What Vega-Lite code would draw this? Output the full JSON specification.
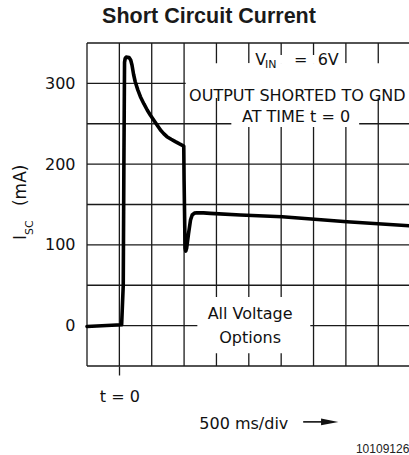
{
  "$schema": "https://vega.github.io/schema/vega-lite/v6.json",
  "autosize": {"type": "none"},
  "padding": {"left": 87, "top": 43, "right": 0, "bottom": 89},
  "width": 322,
  "height": 323,
  "background": "white",
  "config": {"view": {"stroke": null}},
  "datasets": {
    "vgrid": [{"x": -1}, {"x": 0}, {"x": 1}, {"x": 2}, {"x": 3}, {"x": 4}, {"x": 5}, {"x": 6}, {"x": 7}, {"x": 8}],
    "hgrid": [{"y": -50}, {"y": 0}, {"y": 50}, {"y": 100}, {"y": 150}, {"y": 200}, {"y": 250}, {"y": 300}, {"y": 350}],
    "masks": [
      {"x": 4.05, "x2": 6.95, "y": 335, "y2": 325},
      {"x": 3.95, "x2": 7.05, "y": 325, "y2": 245.9},
      {"x": 2.05, "x2": 8.96, "y": 325, "y2": 281.9},
      {"x": 3.09, "x2": 7.91, "y": 281.9, "y2": 254.6},
      {"x": 3.46, "x2": 7.41, "y": 254.6, "y2": 245.9},
      {"x": 2.41, "x2": 5.9, "y": 35.3, "y2": -34.1}
    ],
    "curve": [
      {"t": -1, "isc": -1}, {"t": 0.07, "isc": 1}, {"t": 0.12, "isc": 50}, {"t": 0.14, "isc": 200},
      {"t": 0.16, "isc": 326}, {"t": 0.18, "isc": 331}, {"t": 0.21, "isc": 332.5}, {"t": 0.3, "isc": 332},
      {"t": 0.35, "isc": 329}, {"t": 0.39, "isc": 322.8}, {"t": 0.44, "isc": 311}, {"t": 0.49, "isc": 302},
      {"t": 0.57, "isc": 292}, {"t": 0.65, "isc": 283.5}, {"t": 0.76, "isc": 274.5}, {"t": 0.86, "isc": 267},
      {"t": 0.96, "isc": 260.5}, {"t": 1.06, "isc": 254.6}, {"t": 1.17, "isc": 248}, {"t": 1.27, "isc": 242.2},
      {"t": 1.37, "isc": 237.8}, {"t": 1.47, "isc": 234}, {"t": 1.6, "isc": 230.8}, {"t": 1.73, "isc": 227.8},
      {"t": 1.86, "isc": 225}, {"t": 1.99, "isc": 222.4}, {"t": 2.0, "isc": 180}, {"t": 2.03, "isc": 96},
      {"t": 2.05, "isc": 92.3}, {"t": 2.08, "isc": 96}, {"t": 2.14, "isc": 114.6}, {"t": 2.2, "isc": 131},
      {"t": 2.25, "isc": 137}, {"t": 2.32, "isc": 139.3}, {"t": 2.4, "isc": 139.8}, {"t": 2.6, "isc": 139.6},
      {"t": 2.81, "isc": 139}, {"t": 3.74, "isc": 137}, {"t": 5.03, "isc": 134.8}, {"t": 7.03, "isc": 128.6},
      {"t": 8.96, "isc": 123.7}
    ],
    "ctext": [
      {"x": 5.5, "y": 278.6, "label": "OUTPUT SHORTED TO GND"},
      {"x": 5.46, "y": 251.8, "label": "AT TIME t = 0"},
      {"x": 4.04, "y": 7.7, "label": "All Voltage"},
      {"x": 4.04, "y": -21.3, "label": "Options"}
    ],
    "ltext": [
      {"x": 4.2, "y": 322.9, "label": "V"},
      {"x": 5.4, "y": 322.9, "label": "=\u00a0\u00a06V"},
      {"x": 2.47, "y": -127.4, "label": "500 ms/div"}
    ],
    "subtext": [
      {"x": 4.5, "y": 318.5, "label": "IN"}
    ],
    "ytitle": [
      {"x": -2.9, "y": 106, "label": "I"},
      {"x": -2.9, "y": 148.1, "label": "(mA)"}
    ],
    "ytitlesub": [
      {"x": -2.66, "y": 112.1, "label": "SC"}
    ],
    "heading": [
      {"x": 2.77, "y": 375.2, "label": "Short Circuit Current"}
    ],
    "foot": [
      {"x": 8.96, "y": -158, "label": "10109126"}
    ],
    "arrowline": [
      {"x": 5.68, "x2": 6.3, "y": -119.2}
    ],
    "arrowhead": [
      {"x": 6.5, "y": -119.2}
    ]
  },
  "layer": [
    {
      "data": {"name": "vgrid"},
      "mark": {"type": "rule", "color": "#1a1a1a", "strokeWidth": 1.3},
      "encoding": {
        "x": {"field": "x", "type": "quantitative", "scale": {"domain": [-1, 8.95], "nice": false, "zero": false}}
      }
    },
    {
      "data": {"name": "hgrid"},
      "mark": {"type": "rule", "color": "#1a1a1a", "strokeWidth": 1.3},
      "encoding": {
        "y": {"field": "y", "type": "quantitative", "scale": {"domain": [-50, 350], "nice": false, "zero": false}}
      }
    },
    {
      "data": {"name": "masks"},
      "mark": {"type": "rect", "color": "white", "opacity": 1},
      "encoding": {
        "x": {"field": "x", "type": "quantitative", "scale": {"domain": [-1, 8.95], "nice": false, "zero": false}},
        "x2": {"field": "x2"},
        "y": {"field": "y", "type": "quantitative", "scale": {"domain": [-50, 350], "nice": false, "zero": false}},
        "y2": {"field": "y2"}
      }
    },
    {
      "data": {"name": "curve"},
      "mark": {"type": "line", "color": "black", "strokeWidth": 3.6, "strokeJoin": "round", "strokeCap": "round"},
      "encoding": {
        "x": {"field": "t", "type": "quantitative", "scale": {"domain": [-1, 8.95], "nice": false, "zero": false},
          "axis": {"values": [0], "grid": false, "domain": false, "ticks": true, "tickSize": 9, "tickColor": "#1a1a1a", "tickWidth": 1.3,
            "labelExpr": "'t = 0'", "labelFont": "DejaVu Sans", "labelFontSize": 16, "labelColor": "#111", "labelPadding": 13, "title": null}},
        "y": {"field": "isc", "type": "quantitative", "scale": {"domain": [-50, 350], "nice": false, "zero": false},
          "axis": {"values": [0, 100, 200, 300], "grid": false, "domain": false, "ticks": false, "tickSize": 0,
            "labelFont": "DejaVu Sans", "labelFontSize": 16, "labelColor": "#111", "labelPadding": 12, "title": null}}
      }
    },
    {
      "data": {"name": "ctext"},
      "mark": {"type": "text", "font": "DejaVu Sans", "fontSize": 16, "align": "center", "baseline": "alphabetic", "color": "#111"},
      "encoding": {
        "x": {"field": "x", "type": "quantitative", "scale": {"domain": [-1, 8.95], "nice": false, "zero": false}},
        "y": {"field": "y", "type": "quantitative", "scale": {"domain": [-50, 350], "nice": false, "zero": false}},
        "text": {"field": "label"}
      }
    },
    {
      "data": {"name": "ltext"},
      "mark": {"type": "text", "font": "DejaVu Sans", "fontSize": 16, "align": "left", "baseline": "alphabetic", "color": "#111"},
      "encoding": {
        "x": {"field": "x", "type": "quantitative", "scale": {"domain": [-1, 8.95], "nice": false, "zero": false}},
        "y": {"field": "y", "type": "quantitative", "scale": {"domain": [-50, 350], "nice": false, "zero": false}},
        "text": {"field": "label"}
      }
    },
    {
      "data": {"name": "subtext"},
      "mark": {"type": "text", "font": "DejaVu Sans", "fontSize": 11, "align": "left", "baseline": "alphabetic", "color": "#111"},
      "encoding": {
        "x": {"field": "x", "type": "quantitative", "scale": {"domain": [-1, 8.95], "nice": false, "zero": false}},
        "y": {"field": "y", "type": "quantitative", "scale": {"domain": [-50, 350], "nice": false, "zero": false}},
        "text": {"field": "label"}
      }
    },
    {
      "data": {"name": "ytitle"},
      "mark": {"type": "text", "font": "DejaVu Sans", "fontSize": 17, "align": "left", "baseline": "alphabetic", "angle": 270, "color": "#111"},
      "encoding": {
        "x": {"field": "x", "type": "quantitative", "scale": {"domain": [-1, 8.95], "nice": false, "zero": false}},
        "y": {"field": "y", "type": "quantitative", "scale": {"domain": [-50, 350], "nice": false, "zero": false}},
        "text": {"field": "label"}
      }
    },
    {
      "data": {"name": "ytitlesub"},
      "mark": {"type": "text", "font": "DejaVu Sans", "fontSize": 11, "align": "left", "baseline": "alphabetic", "angle": 270, "color": "#111"},
      "encoding": {
        "x": {"field": "x", "type": "quantitative", "scale": {"domain": [-1, 8.95], "nice": false, "zero": false}},
        "y": {"field": "y", "type": "quantitative", "scale": {"domain": [-50, 350], "nice": false, "zero": false}},
        "text": {"field": "label"}
      }
    },
    {
      "data": {"name": "heading"},
      "mark": {"type": "text", "font": "Liberation Sans", "fontSize": 21.5, "fontWeight": "bold", "align": "center", "baseline": "alphabetic", "color": "#1a1a1a"},
      "encoding": {
        "x": {"field": "x", "type": "quantitative", "scale": {"domain": [-1, 8.95], "nice": false, "zero": false}},
        "y": {"field": "y", "type": "quantitative", "scale": {"domain": [-50, 350], "nice": false, "zero": false}},
        "text": {"field": "label"}
      }
    },
    {
      "data": {"name": "foot"},
      "mark": {"type": "text", "font": "Liberation Sans", "fontSize": 12, "align": "right", "baseline": "alphabetic", "color": "#222"},
      "encoding": {
        "x": {"field": "x", "type": "quantitative", "scale": {"domain": [-1, 8.95], "nice": false, "zero": false}},
        "y": {"field": "y", "type": "quantitative", "scale": {"domain": [-50, 350], "nice": false, "zero": false}},
        "text": {"field": "label"}
      }
    },
    {
      "data": {"name": "arrowline"},
      "mark": {"type": "rule", "color": "#111", "strokeWidth": 1.6},
      "encoding": {
        "x": {"field": "x", "type": "quantitative", "scale": {"domain": [-1, 8.95], "nice": false, "zero": false}},
        "x2": {"field": "x2"},
        "y": {"field": "y", "type": "quantitative", "scale": {"domain": [-50, 350], "nice": false, "zero": false}}
      }
    },
    {
      "data": {"name": "arrowhead"},
      "mark": {"type": "point", "shape": "M-1,-0.4L1,0L-1,0.4Z", "size": 300, "filled": true, "color": "#111", "opacity": 1},
      "encoding": {
        "x": {"field": "x", "type": "quantitative", "scale": {"domain": [-1, 8.95], "nice": false, "zero": false}},
        "y": {"field": "y", "type": "quantitative", "scale": {"domain": [-50, 350], "nice": false, "zero": false}}
      }
    }
  ]
}
